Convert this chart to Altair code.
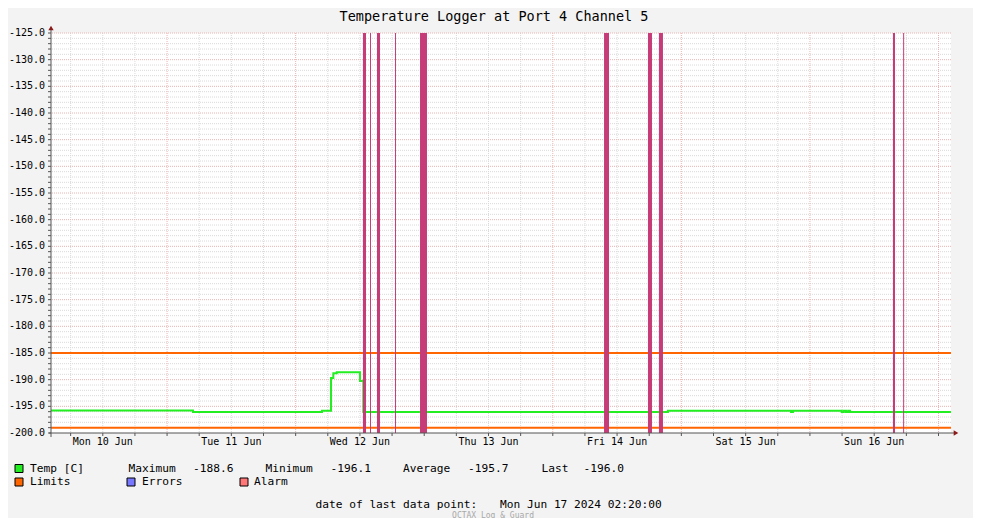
import altair as alt
import pandas as pd

MONO = "DejaVu Sans Mono"

# ---------------- data ----------------
START = "2024-06-10T02:20:00Z"
END = "2024-06-17T02:20:00Z"

temp_times = [
    "2024-06-10T02:20:00Z", "2024-06-11T04:50:00Z", "2024-06-12T04:55:00Z",
    "2024-06-12T06:36:00Z", "2024-06-12T07:02:00Z", "2024-06-12T07:40:00Z",
    "2024-06-12T12:01:00Z", "2024-06-12T12:38:00Z", "2024-06-14T21:30:00Z",
    "2024-06-15T20:28:00Z", "2024-06-15T20:50:00Z", "2024-06-16T05:56:00Z",
    "2024-06-16T06:20:00Z", "2024-06-16T06:44:00Z", "2024-06-16T07:08:00Z",
    "2024-06-16T07:29:00Z", "2024-06-17T02:20:00Z",
]
temp_values = [
    -195.8, -196.05, -195.85,
    -189.7, -188.8, -188.6,
    -190.25, -196.05, -195.85,
    -196.05, -195.85, -196.05,
    -195.85, -196.05, -195.85,
    -196.05, -196.05,
]

alarm_starts = [
    "2024-06-12T12:34:00Z", "2024-06-12T13:53:00Z", "2024-06-12T15:11:00Z",
    "2024-06-12T18:33:00Z", "2024-06-12T23:13:00Z", "2024-06-14T09:34:00Z",
    "2024-06-14T17:46:00Z", "2024-06-14T19:49:00Z", "2024-06-16T15:30:00Z",
    "2024-06-16T17:24:00Z",
]
alarm_ends = [
    "2024-06-12T13:08:00Z", "2024-06-12T14:04:00Z", "2024-06-12T15:45:00Z",
    "2024-06-12T18:44:00Z", "2024-06-13T00:31:00Z", "2024-06-14T10:30:00Z",
    "2024-06-14T18:31:00Z", "2024-06-14T20:34:00Z", "2024-06-16T15:53:00Z",
    "2024-06-16T17:35:00Z",
]

limit_values = [-185.0, -199.0]

title_text = "Temperature Logger at Port 4 Channel 5"
stat_names = ["Maximum", "Minimum", "Average", "Last"]
stat_values = ["-188.6", "-196.1", "-195.7", "-196.0"]
legend_names = ["Temp [C]", "Limits", "Errors", "Alarm"]
last_point_label = "date of last data point:"
last_point_value = "Mon Jun 17 2024 02:20:00"
footer_text = "OCTAX Log & Guard"

# tick labels
x_label_days = ["2024-06-10", "2024-06-11", "2024-06-12", "2024-06-13",
                "2024-06-14", "2024-06-15", "2024-06-16"]
x_label_texts = ["Mon 10 Jun", "Tue 11 Jun", "Wed 12 Jun", "Thu 13 Jun",
                 "Fri 14 Jun", "Sat 15 Jun", "Sun 16 Jun"]
y_label_values = [-200, -195, -190, -185, -180, -175, -170, -165,
                  -160, -155, -150, -145, -140, -135, -130, -125]
y_label_texts = ["-200.0", "-195.0", "-190.0", "-185.0", "-180.0", "-175.0",
                 "-170.0", "-165.0", "-160.0", "-155.0", "-150.0", "-145.0",
                 "-140.0", "-135.0", "-130.0", "-125.0"]

# ---------------- colours ----------------
GREEN = "#22EE22"
ORANGE = "#FF6600"
BLUE = "#7777FF"
ALARM_SW = "#FF7777"
ALARM_BAR = "#C53C78"
ARROW = "#8B1A1A"
AXIS = "#555555"
GRID_MINOR = "#DADADA"
GRID_MAJOR = "#EAB4B4"

# ---------------- tables ----------------
temp_df = pd.DataFrame({"time": temp_times, "temp": temp_values})
alarm_df = pd.DataFrame({"start": alarm_starts, "end": alarm_ends})
limit_df = pd.DataFrame({"limit": limit_values})


def ms(ts):
    return int(pd.Timestamp(ts).value // 10**6)


start_ms = ms(START)
end_ms = ms(END)

grid_6h = pd.date_range("2024-06-10 06:00", "2024-06-17 00:00", freq="6h", tz="UTC")
x_grid_minor = pd.DataFrame({"t": [ms(t) for t in grid_6h if t.hour != 0]})
x_grid_major = pd.DataFrame({"t": [ms(t) for t in grid_6h if t.hour == 0]})
x_ticks_all = pd.DataFrame({"t": [ms(t) for t in grid_6h]})
x_labels_df = pd.DataFrame({"t": [ms(d + "T12:00:00Z") for d in x_label_days],
                            "label": x_label_texts})

y_grid_minor = pd.DataFrame({"v": [v for v in range(-199, -125) if v % 5 != 0]})
y_grid_major = pd.DataFrame({"v": [v for v in range(-195, -124) if v % 5 == 0]})
y_ticks_all = pd.DataFrame({"v": list(range(-200, -124))})
y_labels_df = pd.DataFrame({"v": y_label_values, "label": y_label_texts})

x_scale = alt.Scale(type="utc", domain=[start_ms, end_ms])
y_scale = alt.Scale(domain=[-200, -125], nice=False, zero=False)

hidden_axis = alt.Axis(labels=False, ticks=False, domain=False, grid=False, title=None)


def X(field):
    return alt.X(field, type="temporal", scale=x_scale, axis=hidden_axis)


def Y(field):
    return alt.Y(field, type="quantitative", scale=y_scale, axis=hidden_axis)


# grid
vg_minor = alt.Chart(x_grid_minor).mark_rule(
    color=GRID_MINOR, strokeWidth=1, strokeDash=[1, 1]).encode(x=X("t"))
vg_major = alt.Chart(x_grid_major).mark_rule(
    color=GRID_MAJOR, strokeWidth=1, strokeDash=[1, 1]).encode(x=X("t"))
hg_minor = alt.Chart(y_grid_minor).mark_rule(
    color=GRID_MINOR, strokeWidth=1, strokeDash=[1, 1]).encode(y=Y("v"))
hg_major = alt.Chart(y_grid_major).mark_rule(
    color=GRID_MAJOR, strokeWidth=1, strokeDash=[1, 1]).encode(y=Y("v"))

# small ticks
x_small = alt.Chart(x_ticks_all).mark_rule(color=AXIS, strokeWidth=1).encode(
    x=X("t"), y=alt.value(400), y2=alt.value(403))
y_small = alt.Chart(y_ticks_all).mark_rule(color=AXIS, strokeWidth=1).encode(
    y=Y("v"), x=alt.value(-3), x2=alt.value(0))

# tick labels
x_text = alt.Chart(x_labels_df).mark_text(
    font=MONO, fontSize=10, color="#000000", align="center", baseline="middle"
).encode(x=X("t"), y=alt.value(409), text="label:N")
y_text = alt.Chart(y_labels_df).mark_text(
    font=MONO, fontSize=10, color="#000000", align="right", baseline="middle"
).encode(y=Y("v"), x=alt.value(-6), text="label:N")

line = alt.Chart(temp_df).mark_line(
    color=GREEN, strokeWidth=2, interpolate="step-after"
).encode(x=X("time"), y=Y("temp"))

limits = alt.Chart(limit_df).mark_rule(color=ORANGE, strokeWidth=2).encode(y=Y("limit"))

alarms = alt.Chart(alarm_df).mark_rect(color=ALARM_BAR).encode(
    x=X("start"), x2="end", y=alt.datum(-125), y2=alt.datum(-200),
)

one = alt.Data(values=[{"k": 0}])


def text(s, x, y, size=11.2, color="#000000", align="left", font=MONO):
    return alt.Chart(one).mark_text(
        text=s, align=align, baseline="middle", font=font, fontSize=size, color=color
    ).encode(x=alt.value(x), y=alt.value(y))


def swatch(color, x, y):
    return alt.Chart(one).mark_rect(fill=color, stroke="#000000", strokeWidth=1).encode(
        x=alt.value(x), x2=alt.value(x + 8), y=alt.value(y), y2=alt.value(y + 8)
    )


def rule(x, x2, y, y2, color, width):
    return alt.Chart(one).mark_rule(color=color, strokeWidth=width).encode(
        x=alt.value(x), x2=alt.value(x2), y=alt.value(y), y2=alt.value(y2)
    )


# axis lines with arrows
y_line = rule(0, 0, -5, 404, AXIS, 1)
x_line = rule(-2, 904, 400, 400, AXIS, 1)
up_arrow = alt.Chart(one).mark_point(shape="triangle-up", filled=True, size=28,
                                     color=ARROW, opacity=1).encode(
    x=alt.value(0), y=alt.value(-5))
right_arrow = alt.Chart(one).mark_point(shape="triangle-right", filled=True, size=28,
                                        color=ARROW, opacity=1).encode(
    x=alt.value(905), y=alt.value(400))

ROW1, ROW2 = 435.5, 449
stat_x = [(77.5, 142), (214.5, 279.5), (352, 417), (490.5, 532.5)]
legend_layers = [
    text(title_text, 443, -16.5, size=13.5, align="center"),
    swatch(GREEN, -36, ROW1 - 4), text(legend_names[0], -21, ROW1),
    swatch(ORANGE, -36, ROW2 - 4), text(legend_names[1], -21, ROW2),
    swatch(BLUE, 76, ROW2 - 4), text(legend_names[2], 91, ROW2),
    swatch(ALARM_SW, 189, ROW2 - 4), text(legend_names[3], 203, ROW2),
    text(last_point_label, 264.5, 472),
    text(last_point_value, 449, 472),
    text(footer_text, 442, 482.5, size=8, color="#A8A8A8", align="center"),
]
for (nx, vx), n, v in zip(stat_x, stat_names, stat_values):
    legend_layers.append(text(n, nx, ROW1))
    legend_layers.append(text(v, vx, ROW1))

chart = alt.layer(
    vg_minor, hg_minor, vg_major, hg_major,
    line, limits, alarms,
    x_small, y_small, x_text, y_text, y_line, x_line, up_arrow, right_arrow,
    *legend_layers
).properties(
    width=900, height=400,
    autosize=alt.AutoSizeParams(type="none"),
    padding={"left": 43, "top": 25, "right": 22, "bottom": 85},
    background="#F3F3F3",
).configure_view(fill="white", stroke=None)

chart.save("out.html", embed_options={"renderer": "svg", "actions": False})
